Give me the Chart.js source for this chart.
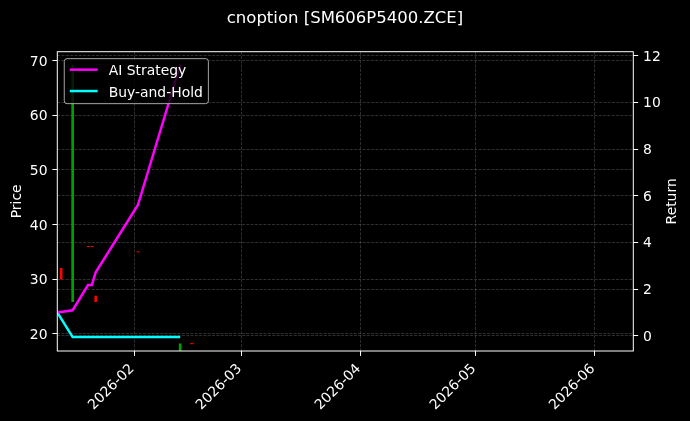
<!DOCTYPE html>
<html>
<head>
<meta charset="utf-8">
<script src="https://cdn.jsdelivr.net/npm/chart.js@4.4.1/dist/chart.umd.min.js"></script>
<style>
html, body { margin: 0; padding: 0; background: #000; }
#wrap { width: 690px; height: 421px; }
</style>
</head>
<body>
<div id="wrap"><canvas id="c" width="690" height="421"></canvas></div>
<script>
// ---------------- data ----------------
const chartTitle = 'cnoption [SM606P5400.ZCE]';
const leftAxisTitle = 'Price';
const rightAxisTitle = 'Return';

const candleDates = ['2026-01-13', '2026-01-16', '2026-01-20', '2026-01-21', '2026-01-22', '2026-02-02', '2026-02-13', '2026-02-16'];
const candleOpen  = [32.0, 25.9, 36.04, 36.04, 26.95, 35.08, 16.5, 18.28];
const candleClose = [30.05, 69.2, 35.96, 35.96, 25.9, 35.0, 18.2, 18.2];

const strategyLabel = 'AI Strategy';
const strategyDates = ['2026-01-12', '2026-01-13', '2026-01-16', '2026-01-20', '2026-01-21', '2026-01-22', '2026-02-02', '2026-02-13'];
const strategyReturn = [1.0, 1.02, 1.09, 2.17, 2.17, 2.72, 5.6, 11.6];

const holdLabel = 'Buy-and-Hold';
const holdDates = ['2026-01-12', '2026-01-16', '2026-02-13'];
const holdReturn = [1.0, -0.06, -0.06];

const xRange = ['2026-01-12', '2026-06-11'];
const xTickDates = ['2026-02-01', '2026-03-01', '2026-04-01', '2026-05-01', '2026-06-01'];
const xTickLabels = ['2026-02', '2026-03', '2026-04', '2026-05', '2026-06'];
const priceTicks = [20, 30, 40, 50, 60, 70];
const priceRange = [16.89, 71.64];
const returnTicks = [0, 2, 4, 6, 8, 10, 12];
const returnRange = [-0.656, 12.17];

// ---------------- chart ----------------
const FONT = 'DejaVu Sans';
const FS = 13.9;
Chart.defaults.font.family = FONT;
Chart.defaults.font.size = FS;
Chart.defaults.color = '#ffffff';

const toMs = s => Date.parse(s + 'T00:00:00Z');
const upColor = '#00a000';
const downColor = '#ff0000';

const candleData = candleDates.map((d, i) => ({ x: toMs(d), y: [candleOpen[i], candleClose[i]] }));
const candleColors = candleDates.map((d, i) => candleClose[i] >= candleOpen[i] ? upColor : downColor);
const strategyData = strategyDates.map((d, i) => ({ x: toMs(d), y: strategyReturn[i] }));
const holdData = holdDates.map((d, i) => ({ x: toMs(d), y: holdReturn[i] }));

const gridColor = 'rgba(176,176,176,0.33)';
const gridDash = [3, 1.3];

const framePlugin = {
  id: 'frameAndLegend',
  beforeDraw(chart) {
    const ctx = chart.ctx;
    ctx.save();
    ctx.fillStyle = '#000';
    ctx.fillRect(0, 0, chart.width, chart.height);
    ctx.restore();
  },
  afterDraw(chart) {
    const ctx = chart.ctx, a = chart.chartArea;
    ctx.save();
    // spines
    ctx.strokeStyle = '#ffffff';
    ctx.lineWidth = 1;
    ctx.strokeRect(a.left, a.top, a.right - a.left, a.bottom - a.top);
    // axis titles (both read bottom-to-top)
    ctx.fillStyle = '#ffffff';
    ctx.font = FS + 'px "' + FONT + '"';
    ctx.textAlign = 'center';
    ctx.textBaseline = 'middle';
    const midY = (a.top + a.bottom) / 2;
    [[a.left - 40.3, leftAxisTitle], [a.right + 39.2, rightAxisTitle]].forEach(([x, t]) => {
      ctx.save();
      ctx.translate(x, midY);
      ctx.rotate(-Math.PI / 2);
      ctx.fillText(t, 0, 0);
      ctx.restore();
    });
    // legend
    const items = chart.data.datasets.filter(d => d.type === 'line');
    const bx = a.left + 0.5 * FS, by = a.top + 0.5 * FS;
    const tw = Math.max(...items.map(d => ctx.measureText(d.label).width));
    const bw = 0.4 * FS + 2 * FS + 0.8 * FS + tw + 0.4 * FS;
    const bh = 45;
    ctx.beginPath();
    if (ctx.roundRect) ctx.roundRect(bx, by, bw, bh, 0.2 * FS); else ctx.rect(bx, by, bw, bh);
    ctx.fillStyle = 'rgba(0,0,0,0.8)';
    ctx.fill();
    ctx.strokeStyle = 'rgba(204,204,204,0.8)';
    ctx.lineWidth = 1;
    ctx.stroke();
    items.forEach((d, i) => {
      const y = by + 11 + i * 21.4;
      ctx.strokeStyle = d.borderColor;
      ctx.lineWidth = d.borderWidth;
      ctx.beginPath();
      ctx.moveTo(bx + 0.4 * FS, y);
      ctx.lineTo(bx + 2.4 * FS, y);
      ctx.stroke();
      ctx.fillStyle = '#ffffff';
      ctx.textAlign = 'left';
      ctx.textBaseline = 'alphabetic';
      ctx.fillText(d.label, bx + 3.2 * FS, y + 5.5);
    });
    ctx.restore();
  }
};

new Chart(document.getElementById('c'), {
  type: 'bar',
  data: {
    datasets: [
      {
        type: 'line', label: strategyLabel, data: strategyData, yAxisID: 'yR',
        borderColor: '#ff00ff', borderWidth: 2.5, pointRadius: 0, tension: 0, fill: false, order: 1
      },
      {
        type: 'line', label: holdLabel, data: holdData, yAxisID: 'yR',
        borderColor: '#00ffff', borderWidth: 2.5, pointRadius: 0, tension: 0, fill: false, order: 1
      },
      {
        type: 'bar', label: 'Candles', data: candleData, yAxisID: 'yL',
        backgroundColor: candleColors, borderWidth: 0, barThickness: 2, grouped: false, order: 2
      }
    ]
  },
  options: {
    responsive: false,
    animation: false,
    devicePixelRatio: 1,
    layout: { padding: 0 },
    plugins: {
      legend: { display: false },
      tooltip: { enabled: false },
      title: {
        display: true, text: chartTitle, color: '#ffffff',
        font: { size: 16.5, weight: 'normal', family: FONT },
        padding: { top: 8.8, bottom: 23.1 }
      }
    },
    scales: {
      x: {
        type: 'linear', position: 'bottom', offset: false,
        min: toMs(xRange[0]), max: toMs(xRange[1]),
        afterBuildTicks: s => { s.ticks = xTickDates.map(d => ({ value: toMs(d) })); },
        afterFit: s => { s.height = 70; },
        ticks: {
          autoSkip: false, minRotation: 45, maxRotation: 45, padding: 4.9, labelOffset: -2,
          color: '#ffffff', font: { size: FS },
          callback: (v, i) => xTickLabels[i]
        },
        grid: { offset: false, color: gridColor, lineWidth: 0.8, tickColor: '#ffffff', tickLength: 4.9, tickWidth: 1 },
        border: { display: false, dash: gridDash }
      },
      yL: {
        type: 'linear', position: 'left',
        min: priceRange[0], max: priceRange[1],
        afterBuildTicks: s => { s.ticks = priceTicks.map(v => ({ value: v })); },
        afterFit: s => { s.width = 57.3; },
        ticks: { padding: 4.9, labelOffset: 1.5, color: '#ffffff', font: { size: FS }, callback: v => String(v) },
        grid: { color: gridColor, lineWidth: 0.8, tickColor: '#ffffff', tickLength: 4.9, tickWidth: 1 },
        border: { display: false, dash: gridDash }
      },
      yR: {
        type: 'linear', position: 'right',
        min: returnRange[0], max: returnRange[1],
        afterBuildTicks: s => { s.ticks = returnTicks.map(v => ({ value: v })); },
        afterFit: s => { s.width = 56.7; },
        ticks: { padding: 4.9, labelOffset: 1.5, color: '#ffffff', font: { size: FS }, callback: v => String(v) },
        grid: { color: gridColor, lineWidth: 0.8, tickColor: '#ffffff', tickLength: 4.9, tickWidth: 1, drawOnChartArea: true },
        border: { display: false, dash: gridDash }
      }
    }
  },
  plugins: [framePlugin]
});
</script>
</body>
</html>
